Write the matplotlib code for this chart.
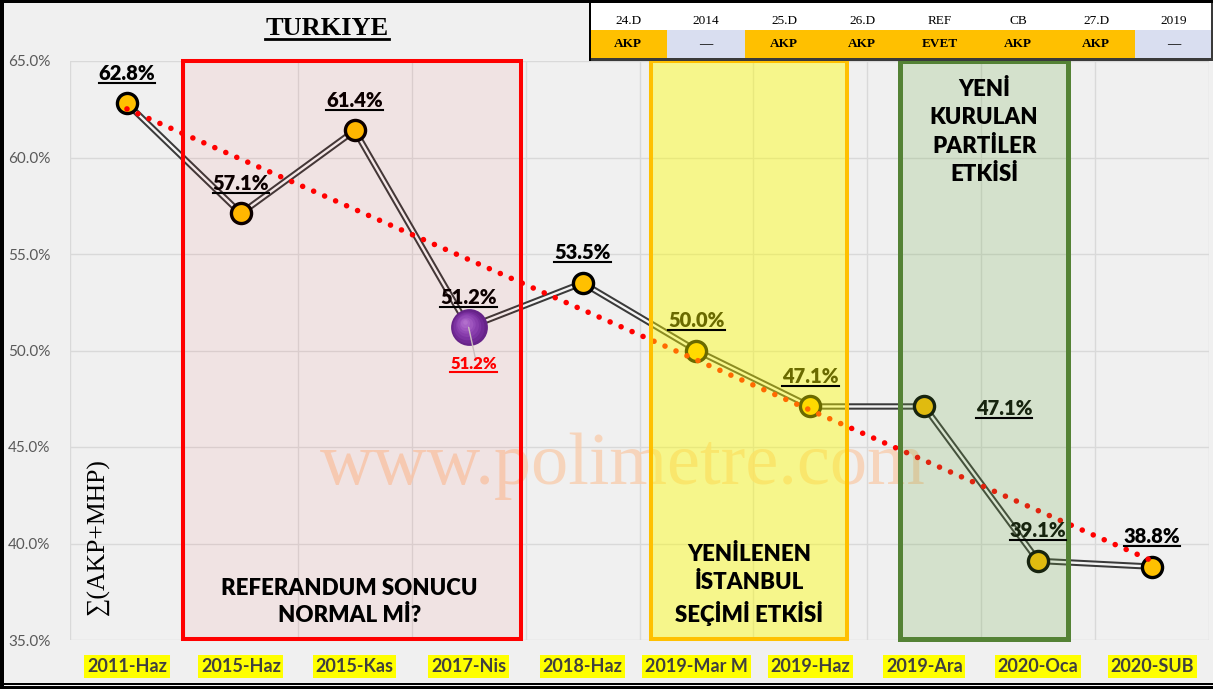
import matplotlib
matplotlib.use("Agg")
import matplotlib.pyplot as plt
import numpy as np
from matplotlib.patches import Rectangle
from matplotlib.lines import Line2D
from matplotlib import transforms

# ---------------- data ----------------
categories = ['2011-Haz', '2015-Haz', '2015-Kas', '2017-Nis', '2018-Haz',
              '2019-Mar M', '2019-Haz', '2019-Ara', '2020-Oca', '2020-SUB']
values = [62.8, 57.1, 61.4, 51.2, 53.5, 50.0, 47.1, 47.1, 39.1, 38.8]
value_labels = ['62.8%', '57.1%', '61.4%', '51.2%', '53.5%',
                '50.0%', '47.1%', '47.1%', '39.1%', '38.8%']
highlight_index = 3
highlight_label = '51.2%'
y_ticks = [35, 40, 45, 50, 55, 60, 65]
table_headers = ['24.D', '2014', '25.D', '26.D', 'REF', 'CB', '27.D', '2019']
table_results = ['AKP', '—', 'AKP', 'AKP', 'EVET', 'AKP', 'AKP', '—']
box_texts = ['REFERANDUM SONUCU\nNORMAL Mİ?',
             'YENİLENEN\nİSTANBUL\nSEÇİMİ ETKİSİ',
             'YENİ\nKURULAN\nPARTİLER\nETKİSİ']

W, H = 1213, 689
BG = '#f0f0f0'
SANS = ['Lato', 'DejaVu Sans']
SERIF = ['Liberation Serif', 'DejaVu Serif']

fig = plt.figure(figsize=(W / 100, H / 100), dpi=100, facecolor=BG)

def fx(px):
    return px / W

def fy(py):
    return 1 - py / H

ax = fig.add_axes([fx(70), fy(640), fx(1209) - fx(70), fy(61) - fy(640)])
ax.set_facecolor('none')
ax.set_xlim(-0.5, 9.5)
ax.set_ylim(35, 65)
for s in ax.spines.values():
    s.set_visible(False)

x = np.arange(len(categories))

# grid
ax.set_yticks(y_ticks)
ax.set_yticklabels([f'{v:.1f}%' for v in y_ticks], fontfamily=SANS,
                   fontsize=11, color='#595959')
ax.set_xticks(x)
ax.set_xticklabels(categories)
ax.set_xticks(np.arange(-0.5, 10, 1), minor=True)
ax.tick_params(axis='both', which='both', length=0)
ax.tick_params(axis='y', pad=14)
ax.tick_params(axis='x', pad=13)
ax.grid(True, axis='y', color='#d9d9d9', lw=1, zorder=0)
ax.grid(True, axis='x', which='minor', color='#d9d9d9', lw=1, zorder=0)
ax.grid(False, axis='x', which='major')
for lab in ax.get_xticklabels():
    lab.set_fontfamily(SANS)
    lab.set_fontweight('bold')
    lab.set_fontsize(13)
    lab.set_color('#404040')
    lab.set_bbox(dict(facecolor='#ffff00', edgecolor='none', pad=2.0))
ax.set_axisbelow(True)

# watermark
ax.text(4.35, 44.0, 'www.polimetre.com', fontfamily=SERIF, fontsize=53.5,
        color='#f8cdae', alpha=0.8, ha='center', va='center', zorder=1)

# connecting double line
ax.plot(x, values, color='#3a3a3a', lw=4.6, zorder=2, solid_joinstyle='round')
ax.plot(x, values, color='#f4f4f4', lw=1.7, zorder=2.1, solid_joinstyle='round')

# markers
normal = [i for i in range(len(values)) if i != highlight_index]
ax.plot(x[normal], np.array(values)[normal], ls='none', marker='o', ms=14.5,
        mfc='#ffc000', mec='black', mew=2.4, zorder=3)

# purple sphere
hx, hy = x[highlight_index], values[highlight_index]
shades = ['#5e2590', '#6a2c9e', '#7636ab', '#8241b6', '#8d4dc0', '#995ac9',
          '#a468d1', '#ae76d8']
base_ms = 26.5
for k, c in enumerate(shades):
    frac = 1 - k / len(shades)
    ms = base_ms * frac
    off = (1 - frac) * 7.5
    tr = transforms.offset_copy(ax.transData, fig=fig, x=-off * 0.45,
                                y=off * 0.55, units='points')
    ax.plot([hx], [hy], marker='o', ms=ms, mfc=c, mec='none', ls='none',
            transform=tr, zorder=3.2 + k * 0.01)

# leader line from sphere to red label
ax.annotate('', xy=(hx, hy), xytext=(5, -23), textcoords='offset points',
            arrowprops=dict(arrowstyle='-', color='#c8c8c8', lw=1.0,
                            shrinkA=0, shrinkB=0), zorder=3.5)

# trend line (least squares fit of the series)
coef = np.polyfit(x, values, 1)
trend = np.polyval(coef, x)
ax.plot(x, trend, color='#ff0000', lw=4.0, ls=(0, (0.01, 2.15)),
        dash_capstyle='round', zorder=4)

# data labels (baseline-anchored so underline can sit just below)
under_texts = []
for i, (v, lab) in enumerate(zip(values, value_labels)):
    if i == 7:
        off, ha = (37, -6.5), 'left'
    else:
        off, ha = (0, 17.0), 'center'
    t = ax.annotate(lab, (x[i], v), xytext=off, textcoords='offset points',
                    ha=ha, va='baseline', fontfamily=SANS, fontweight='heavy',
                    fontsize=14.5, color='black', zorder=5)
    under_texts.append((t, 'black'))

t = ax.annotate(highlight_label, (hx, hy), xytext=(3.5, -30.0),
                textcoords='offset points', ha='center', va='baseline',
                fontfamily=SANS, fontweight='heavy', fontsize=12,
                color='#ff0000', zorder=5)
under_texts.append((t, '#ff0000'))

# overlay boxes
boxes = [
    (0.49, 3.456, '#ff0000', 0.05, '#ff0000', 2.9),
    (4.605, 6.325, '#ffff00', 0.42, '#ffc000', 2.9),
    (6.79, 8.263, '#70ad47', 0.21, '#548235', 3.6),
]
for x0, x1, fc, a, ec, lw in boxes:
    ax.add_patch(Rectangle((x0, 35.05), x1 - x0, 29.95, facecolor=fc,
                           alpha=a, edgecolor='none', zorder=6,
                           clip_on=False))
    ax.add_patch(Rectangle((x0, 35.05), x1 - x0, 29.95, facecolor='none',
                           edgecolor=ec, lw=lw, zorder=6.5, clip_on=False))

BOX_FS = 16
ax.text(1.956, 36.97, box_texts[0], ha='center', va='center',
        fontfamily=SANS, fontweight='heavy', fontsize=BOX_FS, linespacing=1.4,
        color='black', zorder=7)
ax.text(5.465, 37.85, box_texts[1], ha='center', va='center',
        fontfamily=SANS, fontweight='heavy', fontsize=BOX_FS, linespacing=1.4,
        color='black', zorder=7)
ax.text(7.526, 61.32, box_texts[2], ha='center', va='center',
        fontfamily=SANS, fontweight='heavy', fontsize=BOX_FS, linespacing=1.43,
        color='black', zorder=7)

# y axis label
fig.text(fx(98), fy(537), '∑(AKP+MHP)', rotation=90, ha='center',
         va='center', fontfamily=SERIF, fontsize=18.5, color='black')

# title
title = fig.text(fx(327), fy(35), 'TURKIYE', ha='center', va='baseline',
                 fontfamily=SERIF, fontweight='bold', fontsize=19,
                 color='black')

# ---------------- table ----------------
tax = fig.add_axes([fx(589), fy(61), fx(1213) - fx(589), 61 / H])
tax.set_xlim(0, 8)
tax.set_ylim(61, 0)
tax.axis('off')
tax.add_patch(Rectangle((0, 0), 8, 61, facecolor='white', edgecolor='none'))
for i, (hdr, res) in enumerate(zip(table_headers, table_results)):
    cfc = '#ffc000' if res != '—' else '#d9def0'
    tax.add_patch(Rectangle((i, 30), 1, 28, facecolor=cfc, edgecolor='none'))
    tax.text(i + 0.5, 20.5, hdr, ha='center', va='center', fontfamily=SERIF,
             fontsize=9.5, color='black')
    tax.text(i + 0.5, 44, res, ha='center', va='center', fontfamily=SERIF,
             fontsize=9.5, fontweight='bold', color='black')
tax.add_patch(Rectangle((0, 57.5), 8, 3.5, facecolor='#3a3a3a',
                        edgecolor='none'))
tax.add_patch(Rectangle((0, 0), 0.03, 61, facecolor='black', edgecolor='none'))
tax.add_patch(Rectangle((7.98, 0), 0.02, 61, facecolor='#3a3a3a',
                        edgecolor='none'))

# figure frame
fig.patches.append(Rectangle((0, 0), fx(4), 1, transform=fig.transFigure,
                             facecolor='black', edgecolor='none', zorder=10))
fig.patches.append(Rectangle((0, fy(2.5)), 1, 2.5 / H,
                             transform=fig.transFigure, facecolor='black',
                             edgecolor='none', zorder=10))
fig.patches.append(Rectangle((0, 0), 1, 3 / H, transform=fig.transFigure,
                             facecolor='black', edgecolor='none', zorder=10))
fig.patches.append(Rectangle((0, 4 / H), 1, 2.5 / H, transform=fig.transFigure,
                             facecolor='black', edgecolor='none', zorder=10))

# underlines: drawn just below each text's baseline
fig.canvas.draw()
renderer = fig.canvas.get_renderer()

def underline(txt, color, lw=1.5, below=3.0):
    bb = txt.get_window_extent(renderer)
    if hasattr(txt, 'xyann'):
        px, py = ax.transData.transform(txt.xy)
        ybase = py + txt.xyann[1] * 100 / 72
    else:
        ybase = txt.get_transform().transform(txt.get_position())[1]
    yb = ybase - below
    fig.add_artist(Line2D([bb.x0 / W, bb.x1 / W], [yb / H, yb / H],
                          transform=fig.transFigure, color=color, lw=lw,
                          zorder=txt.get_zorder()))

for t, c in under_texts:
    underline(t, c)
underline(title, 'black', lw=2.0, below=4.0)

fig.savefig('out.png', dpi=100, facecolor=BG)
